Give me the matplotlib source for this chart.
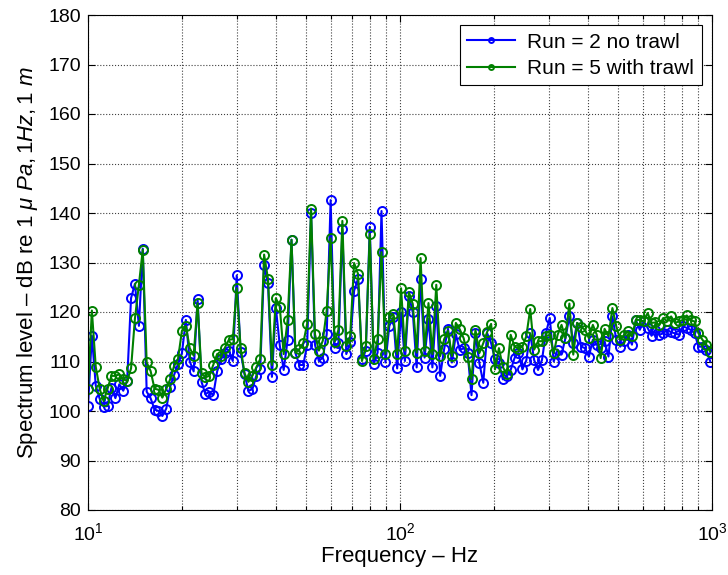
"""
Ambient noise spectrum, run 2 (no trawl) vs run 5 (with trawl).
"""

import matplotlib.pyplot as plt
from matplotlib.ticker import LogLocator, NullFormatter

# ==========================================
# DATA (1/24 octave bands, 10 Hz - 1 kHz)
# ==========================================
FREQ_HZ = [
    10.00, 10.29, 10.59, 10.91, 11.22, 11.55, 11.89, 12.24, 12.60, 12.97, 13.35, 13.74,
    14.14, 14.56, 14.98, 15.42, 15.87, 16.34, 16.82, 17.31, 17.82, 18.34, 18.88, 19.43,
    20.00, 20.59, 21.19, 21.81, 22.45, 23.11, 23.78, 24.48, 25.20, 25.94, 26.70, 27.47,
    28.28, 29.11, 29.97, 30.84, 31.75, 32.68, 33.64, 34.62, 35.64, 36.68, 37.75, 38.86,
    40.00, 41.17, 42.38, 43.62, 44.90, 46.22, 47.57, 48.96, 50.40, 51.87, 53.39, 54.95,
    56.57, 58.22, 59.93, 61.69, 63.50, 65.35, 67.27, 69.24, 71.27, 73.36, 75.51, 77.72,
    80.00, 82.35, 84.76, 87.24, 89.80, 92.43, 95.14, 97.93, 100.8, 103.7, 106.8, 109.9,
    113.1, 116.4, 119.9, 123.4, 127.0, 130.7, 134.5, 138.5, 142.5, 146.7, 151.0, 155.4,
    160.0, 164.7, 169.5, 174.5, 179.6, 184.9, 190.3, 195.9, 201.6, 207.5, 213.6, 219.8,
    226.3, 232.9, 239.7, 246.8, 254.0, 261.4, 269.1, 277.0, 285.1, 293.4, 302.0, 310.9,
    320.0, 329.4, 339.0, 349.0, 359.2, 369.7, 380.6, 391.7, 403.2, 415.0, 427.2, 439.7,
    452.5, 465.8, 479.5, 493.5, 508.0, 522.9, 538.2, 553.9, 570.2, 586.9, 604.1, 621.8,
    640.0, 658.8, 678.1, 697.9, 718.4, 739.5, 761.1, 783.4, 806.3, 830.0, 854.3, 879.2,
    905.1, 931.6, 958.9, 987.0,
]

# Run 2, no trawl (dB re 1 uPa, 1 Hz, 1 m)
RUN2_DB = [
    101.0, 115.2, 105.1, 102.4, 100.9, 101.0, 104.7, 102.6, 105.4, 104.1, 106.1, 122.8,
    125.7, 117.2, 132.8, 103.9, 102.6, 100.3, 100.0, 99.0, 100.5, 104.9, 107.3, 109.5,
    111.7, 118.4, 110.0, 108.0, 122.6, 105.9, 103.4, 103.9, 103.2, 108.0, 110.5, 111.8,
    112.2, 110.1, 127.4, 112.0, 107.4, 104.1, 104.4, 107.1, 108.4, 129.4, 125.8, 106.9,
    120.9, 113.3, 108.3, 114.3, 134.6, 111.7, 109.3, 109.3, 113.3, 140.0, 113.4, 110.1,
    110.8, 115.5, 142.6, 112.8, 113.8, 136.7, 111.5, 113.9, 124.3, 126.7, 110.5, 112.2,
    137.2, 109.5, 111.8, 140.4, 109.8, 117.2, 118.9, 108.6, 119.9, 110.1, 123.3, 119.9,
    108.8, 126.7, 110.8, 118.6, 108.8, 121.3, 107.1, 112.5, 116.6, 109.8, 115.5, 112.3,
    112.7, 111.7, 103.2, 115.7, 109.7, 105.7, 115.7, 113.7, 110.5, 109.7, 106.4, 107.0,
    108.3, 110.7, 111.8, 108.4, 110.2, 115.7, 110.3, 108.3, 110.3, 115.7, 118.8, 110.0,
    112.4, 111.4, 114.7, 119.1, 113.7, 117.8, 113.0, 112.7, 111.0, 114.4, 113.4, 112.7,
    114.1, 111.0, 119.1, 114.4, 113.0, 114.1, 115.4, 113.4, 118.4, 116.4, 118.1, 116.8,
    115.2, 116.4, 115.4, 115.7, 116.4, 115.9, 115.7, 115.4, 117.1, 116.8, 116.4, 115.7,
    113.0, 113.0, 112.4, 110.0,
]

# Run 5, with trawl
RUN5_DB = [
    104.4, 120.3, 108.9, 104.4, 102.0, 104.5, 107.1, 107.1, 107.4, 106.4, 106.1, 108.6,
    118.7, 125.5, 132.6, 109.8, 108.1, 104.5, 104.3, 102.7, 104.5, 106.4, 109.1, 110.5,
    116.2, 117.2, 112.7, 111.2, 121.8, 107.6, 106.8, 107.1, 109.3, 111.5, 111.1, 112.8,
    114.4, 114.5, 124.8, 112.8, 107.6, 105.9, 107.1, 108.8, 110.5, 131.6, 126.7, 109.3,
    122.8, 121.1, 111.5, 118.4, 134.6, 111.8, 112.5, 113.7, 117.6, 140.9, 115.5, 112.2,
    114.2, 120.3, 134.9, 114.0, 116.4, 138.4, 113.2, 115.1, 129.9, 127.7, 110.1, 113.2,
    135.8, 110.5, 114.5, 132.1, 111.5, 118.9, 119.6, 111.5, 124.8, 112.2, 124.0, 121.6,
    111.8, 130.9, 112.2, 121.8, 111.5, 125.5, 111.1, 114.5, 116.2, 111.1, 117.8, 116.5,
    114.7, 111.0, 106.4, 116.4, 111.7, 113.7, 116.0, 117.6, 108.4, 112.7, 108.9, 107.4,
    115.4, 113.0, 112.6, 113.0, 115.1, 120.6, 112.4, 114.1, 114.1, 115.1, 115.4, 111.7,
    115.4, 117.4, 114.7, 121.7, 111.4, 117.8, 117.0, 116.4, 114.7, 117.4, 115.4, 110.7,
    116.6, 115.1, 120.8, 117.1, 114.4, 115.4, 116.1, 115.1, 118.4, 118.4, 118.1, 119.8,
    117.8, 117.9, 117.4, 118.8, 118.1, 119.1, 117.8, 118.1, 118.4, 119.3, 118.3, 118.1,
    115.7, 114.4, 113.4, 112.0,
]

LABELS = ['Run = 2 no trawl', 'Run = 5 with trawl']
COLORS = ['#0000ff', '#008000']

plt.rcParams['font.family'] = ['Liberation Sans', 'DejaVu Sans']
plt.rcParams['mathtext.fontset'] = 'custom'
plt.rcParams['mathtext.rm'] = 'Liberation Sans'
plt.rcParams['mathtext.it'] = 'Liberation Sans:italic'


def main():
    fig = plt.figure(figsize=(7.28, 5.75), dpi=100)
    ax = fig.add_axes([88 / 728, 65 / 575, 624 / 728, 495 / 575])

    for vals, lab, col in zip([RUN2_DB, RUN5_DB], LABELS, COLORS):
        ax.plot(FREQ_HZ, vals, '-o', color=col, mfc='none', mec=col,
                ms=6.5, mew=1.4, lw=1.5, label=lab)

    ax.set_xscale('log')
    ax.set_xlim(10, 1000)
    ax.set_ylim(80, 180)
    ax.set_yticks(range(80, 181, 10))
    ax.xaxis.set_minor_locator(LogLocator(base=10, subs=range(2, 10)))
    ax.xaxis.set_minor_formatter(NullFormatter())

    ax.grid(which='major', linestyle=':', color='0.25', linewidth=0.8)
    ax.grid(which='minor', axis='x', linestyle=':', color='0.25', linewidth=0.8)
    ax.set_axisbelow(True)
    ax.tick_params(which='both', direction='in', top=True, right=True,
                   labelsize=14, width=0.8)
    ax.tick_params(which='major', length=5)
    ax.tick_params(which='minor', length=3)
    ax.tick_params(axis='x', which='major', pad=9)
    ax.tick_params(axis='y', which='major', pad=5)
    for sp in ax.spines.values():
        sp.set_linewidth(0.8)

    ax.set_xlabel('Frequency \u2013 Hz', fontsize=16, labelpad=1)
    ax.set_ylabel('Spectrum level \u2013 dB re 1 $\\mathit{\\mu\\ Pa,1Hz,1\\ m}$',
                  fontsize=16, labelpad=6)

    leg = ax.legend(loc='upper right', fontsize=15, fancybox=False,
                    edgecolor='black', framealpha=1, markerscale=0.55,
                    handlelength=2.3, handletextpad=0.6, borderaxespad=0.5,
                    labelspacing=0.35, borderpad=0.35)
    leg.get_frame().set_linewidth(0.8)

    fig.savefig('out.png', dpi=100)
    plt.close(fig)


if __name__ == '__main__':
    main()
